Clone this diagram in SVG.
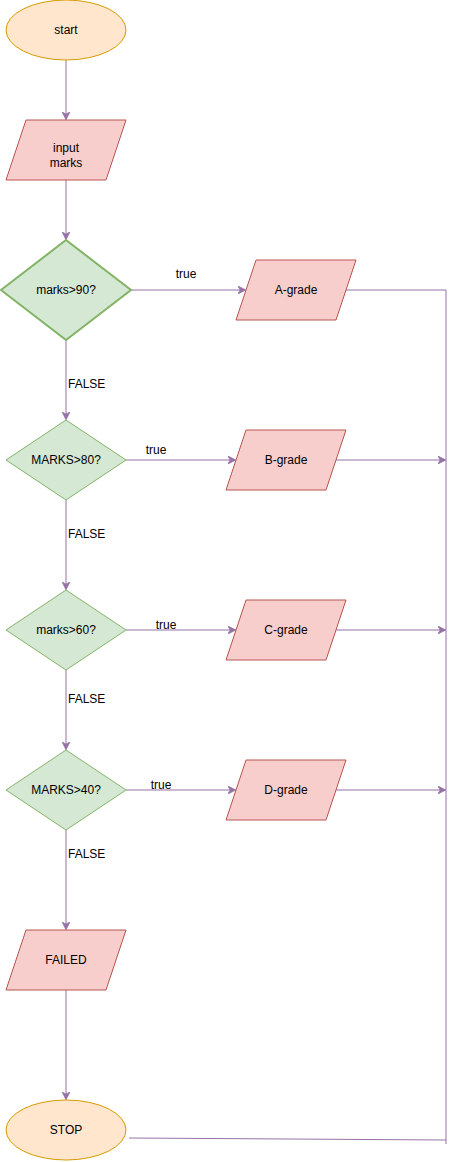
<svg xmlns="http://www.w3.org/2000/svg" width="456" height="1162" viewBox="0 0 456 1162">
<style>
.term{fill:#ffe6cc;stroke:#d79b00;stroke-width:1}
.io{fill:#f8cecc;stroke:#b85450;stroke-width:1}
.dec{fill:#d5e8d4;stroke:#82b366;stroke-width:1}
.dec2{fill:#d5e8d4;stroke:#82b366;stroke-width:2}
.edge{fill:none;stroke:#9673a6;stroke-width:1}
text{font-family:"Liberation Sans",Arial,sans-serif;font-size:12px;fill:#000}
.c{text-anchor:middle;dominant-baseline:central}
.lbl{fill:#000}
</style>
<defs>
<marker id="arr" viewBox="0 0 10 10" refX="9" refY="5" markerWidth="8" markerHeight="8" markerUnits="userSpaceOnUse" orient="auto">
<path d="M0,0 L10,5 L0,10 L3,5 Z" fill="#9673a6" stroke="#9673a6"/>
</marker>
</defs>
<g id="connectors">
<path class="edge" d="M66,60 V119" marker-end="url(#arr)"/>
<path class="edge" d="M66,180 V239" marker-end="url(#arr)"/>
<path class="edge" d="M131,290 H245" marker-end="url(#arr)"/>
<path class="edge" d="M66,340 V419" marker-end="url(#arr)"/>
<path class="edge" d="M126,460 H235" marker-end="url(#arr)"/>
<path class="edge" d="M66,500 V589" marker-end="url(#arr)"/>
<path class="edge" d="M126,630 H235" marker-end="url(#arr)"/>
<path class="edge" d="M66,670 V749" marker-end="url(#arr)"/>
<path class="edge" d="M126,790 H235" marker-end="url(#arr)"/>
<path class="edge" d="M66,830 V929" marker-end="url(#arr)"/>
<path class="edge" d="M66,990 V1099" marker-end="url(#arr)"/>
<path class="edge" d="M346,290 H446 V1144"/>
<path class="edge" d="M336,460 H445" marker-end="url(#arr)"/>
<path class="edge" d="M336,630 H445" marker-end="url(#arr)"/>
<path class="edge" d="M336,790 H445" marker-end="url(#arr)"/>
<path class="edge" d="M129,1138 L446,1140"/>
<text x="186" y="274" class="c">true</text>
<text x="156" y="450" class="c">true</text>
<text x="166" y="625" class="c">true</text>
<text x="161" y="785" class="c">true</text>
<text x="68" y="384" dominant-baseline="central">FALSE</text>
<text x="68" y="534" dominant-baseline="central">FALSE</text>
<text x="68" y="699" dominant-baseline="central">FALSE</text>
<text x="68" y="854" dominant-baseline="central">FALSE</text>
</g>
<g id="start">
<ellipse class="term" cx="66" cy="30" rx="60" ry="30"/>
<text x="66" y="30" class="c">start</text>
</g>
<g id="input">
<path class="io" d="M26,120 H126 L106,180 H6 Z"/>
<text x="66" y="148" class="c">input</text>
<text x="66" y="163" class="c">marks</text>
</g>
<g id="dec90">
<path class="dec2" d="M66,240 L131,290 L66,340 L1,290 Z"/>
<text x="66" y="290" class="c">marks&gt;90?</text>
</g>
<g id="agrade">
<path class="io" d="M256,260 H356 L336,320 H236 Z"/>
<text x="296" y="290" class="c">A-grade</text>
</g>
<g id="dec80">
<path class="dec" d="M66,420 L126,460 L66,500 L6,460 Z"/>
<text x="66" y="460" class="c">MARKS&gt;80?</text>
</g>
<g id="bgrade">
<path class="io" d="M246,430 H346 L326,490 H226 Z"/>
<text x="286" y="460" class="c">B-grade</text>
</g>
<g id="dec60">
<path class="dec" d="M66,590 L126,630 L66,670 L6,630 Z"/>
<text x="66" y="630" class="c">marks&gt;60?</text>
</g>
<g id="cgrade">
<path class="io" d="M246,600 H346 L326,660 H226 Z"/>
<text x="286" y="630" class="c">C-grade</text>
</g>
<g id="dec40">
<path class="dec" d="M66,750 L126,790 L66,830 L6,790 Z"/>
<text x="66" y="790" class="c">MARKS&gt;40?</text>
</g>
<g id="dgrade">
<path class="io" d="M246,760 H346 L326,820 H226 Z"/>
<text x="286" y="790" class="c">D-grade</text>
</g>
<g id="failed">
<path class="io" d="M26,930 H126 L106,990 H6 Z"/>
<text x="66" y="960" class="c">FAILED</text>
</g>
<g id="stop">
<ellipse class="term" cx="66" cy="1130" rx="60" ry="30"/>
<text x="66" y="1130" class="c">STOP</text>
</g>
</svg>
